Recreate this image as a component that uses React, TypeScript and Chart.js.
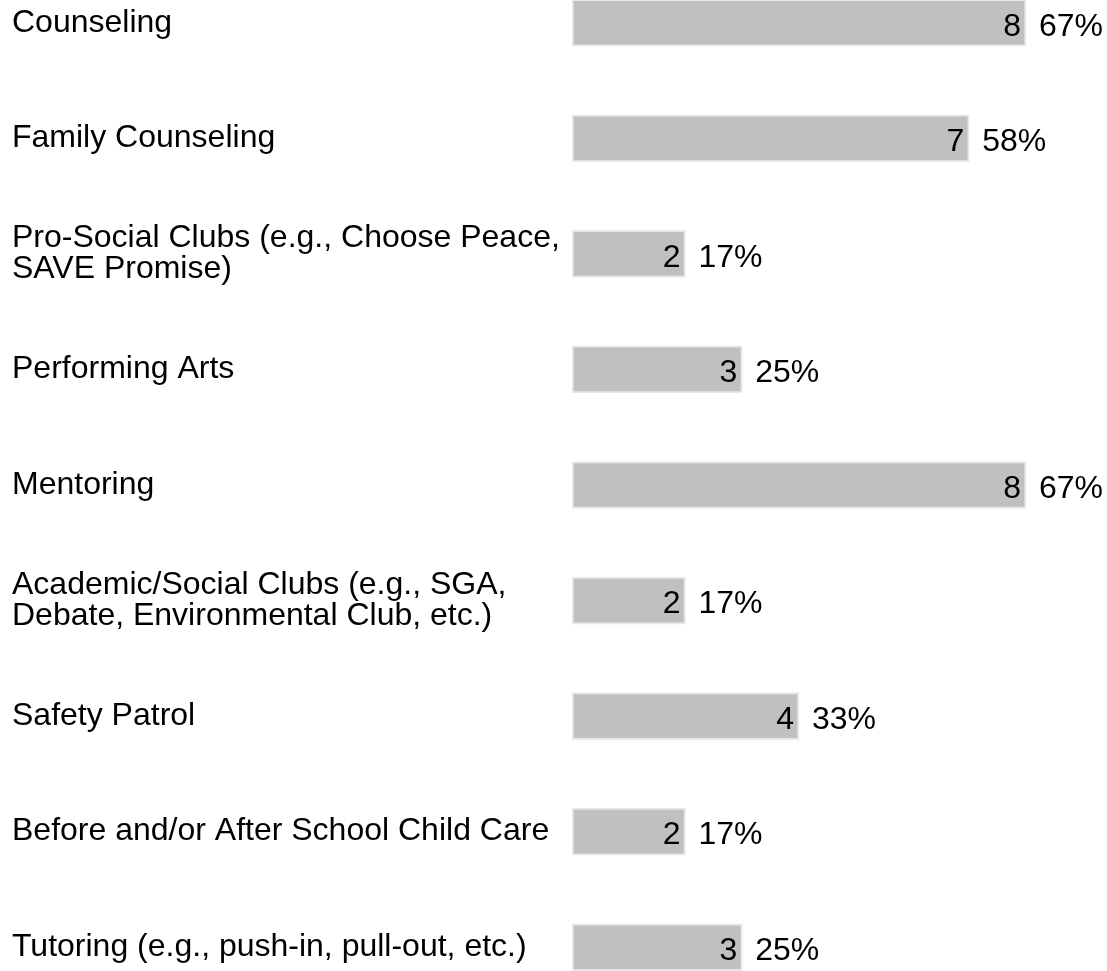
import React, { useEffect, useRef } from "react";
import { Chart, registerables } from "chart.js";

Chart.register(...registerables);

const categories: (string | string[])[] = [
  "Counseling",
  "Family Counseling",
  ["Pro-Social Clubs (e.g., Choose Peace,", "SAVE Promise)"],
  "Performing Arts",
  "Mentoring",
  ["Academic/Social Clubs (e.g., SGA,", "Debate, Environmental Club, etc.)"],
  "Safety Patrol",
  "Before and/or After School Child Care",
  "Tutoring (e.g., push-in, pull-out, etc.)",
];

const counts: number[] = [8, 7, 2, 3, 8, 2, 4, 2, 3];
const percents: string[] = ["67%", "58%", "17%", "25%", "67%", "17%", "33%", "17%", "25%"];

const FONT = "'Liberation Sans', Arial, Helvetica, sans-serif";

const valueLabels = {
  id: "valueLabels",
  afterDatasetsDraw(chart: any) {
    const ctx = chart.ctx;
    const meta = chart.getDatasetMeta(0);
    ctx.save();
    ctx.font = `32px ${FONT}`;
    ctx.fillStyle = "#000";
    ctx.textBaseline = "middle";
    meta.data.forEach((bar: any, i: number) => {
      const { x, y } = bar.getProps(["x", "y"], true);
      ctx.textAlign = "right";
      ctx.fillText(String(counts[i]), x - 5, y + 4);
      ctx.textAlign = "left";
      ctx.fillText(percents[i], x + 13, y + 4);
    });
    ctx.restore();
  },
};

export default function App() {
  const ref = useRef<HTMLCanvasElement | null>(null);

  useEffect(() => {
    if (!ref.current) return;
    const chart = new Chart(ref.current, {
      type: "bar",
      data: {
        labels: categories,
        datasets: [
          {
            data: counts,
            backgroundColor: "#c0c0c0",
            borderColor: "#e8e8e8",
            borderWidth: 2,
            borderSkipped: false,
            barThickness: 47,
          },
        ],
      },
      options: {
        indexAxis: "y",
        animation: false,
        responsive: false,
        maintainAspectRatio: false,
        devicePixelRatio: 1,
        layout: { padding: { left: 12, right: 81, top: 0, bottom: 0 } },
        plugins: {
          legend: { display: false },
          tooltip: { enabled: false },
          title: { display: false },
        },
        scales: {
          x: {
            display: false,
            min: 0,
            max: 8,
          },
          y: {
            type: "category",
            grid: { display: false, drawTicks: false },
            border: { display: false },
            ticks: {
              autoSkip: false,
              crossAlign: "far",
              padding: 0,
              color: "#000",
              font: { family: FONT, size: 32, lineHeight: 0.97 },
            },
            afterFit(scale: any) {
              scale.width = 560;
              scale.paddingTop = 0;
              scale.paddingBottom = 0;
            },
          },
        },
      } as any,
      plugins: [valueLabels],
    });
    return () => chart.destroy();
  }, []);

  return (
    <div
      style={{
        position: "fixed",
        left: 0,
        top: 0,
        width: 1107,
        height: 971,
        overflow: "hidden",
        background: "#fff",
      }}
    >
      <canvas
        ref={ref}
        width={1107}
        height={1040}
        style={{ position: "absolute", left: 0, top: -35, width: 1107, height: 1040 }}
      />
    </div>
  );
}
